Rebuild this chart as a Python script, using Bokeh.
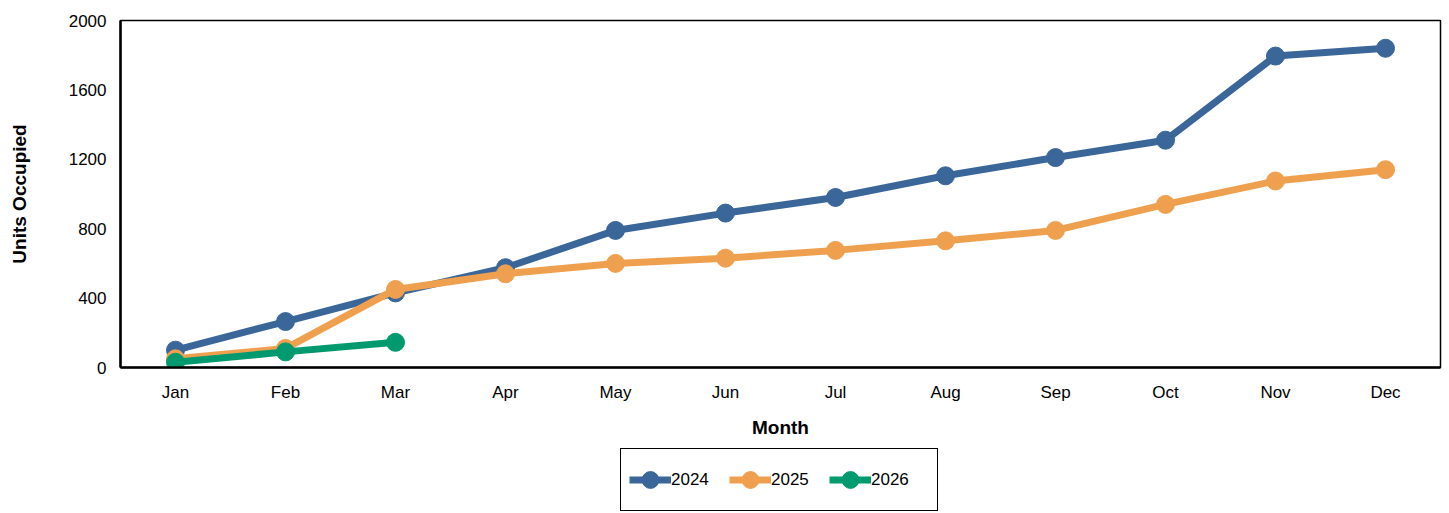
from bokeh.plotting import figure
from bokeh.layouts import column
from bokeh.models import FactorRange, Range1d, Legend, LegendItem, FixedTicker
from bokeh.embed import file_html
from bokeh.resources import INLINE

months = ["Jan", "Feb", "Mar", "Apr", "May", "Jun", "Jul", "Aug", "Sep", "Oct", "Nov", "Dec"]
units_2024 = [100, 265, 430, 575, 790, 890, 980, 1105, 1210, 1310, 1795, 1840]
units_2025 = [50, 110, 450, 540, 600, 630, 675, 730, 790, 940, 1075, 1140]
months_2026 = ["Jan", "Feb", "Mar"]
units_2026 = [30, 90, 145]
y_ticks = [0, 400, 800, 1200, 1600, 2000]

colors = {"2024": "#3B6699", "2025": "#EFA04F", "2026": "#009A6E"}
FONT = "Liberation Sans"

p = figure(width=1449, height=440,
           x_range=FactorRange(factors=months, range_padding=0),
           y_range=Range1d(0, 2000), output_backend="svg", toolbar_location=None,
           min_border_left=120, min_border_right=9, min_border_top=20, min_border_bottom=69)

p.xgrid.grid_line_color = None
p.ygrid.grid_line_color = None
p.outline_line_color = "black"
p.outline_line_width = 1.5
p.outline_line_alpha = 1

p.yaxis.ticker = FixedTicker(ticks=y_ticks)
for ax in (p.xaxis[0], p.yaxis[0]):
    ax.major_tick_line_color = None
    ax.minor_tick_line_color = None
    ax.major_tick_out = 0
    ax.major_tick_in = 0
    ax.axis_line_color = "black"
    ax.axis_line_width = 2.5
    ax.major_label_text_font = FONT
    ax.major_label_text_font_size = "17px"
    ax.major_label_text_color = "black"
    ax.axis_label_text_font = FONT
    ax.axis_label_text_font_style = "bold"
    ax.axis_label_text_color = "black"
    ax.axis_label_text_font_size = "19px"

p.yaxis.axis_label = "Units Occupied"
p.yaxis.major_label_standoff = 14
p.yaxis.axis_label_standoff = 36
p.xaxis.axis_label = "Month"
p.xaxis.major_label_standoff = 15
p.xaxis.axis_label_standoff = 12

series = [("2024", months, units_2024), ("2025", months, units_2025), ("2026", months_2026, units_2026)]
for name, xs, ys in series:
    c = colors[name]
    p.line(xs, ys, line_color=c, line_width=7)
    p.scatter(xs, ys, size=18, fill_color=c, line_color=c)

# legend strip below the chart: same series, drawn outside this strip's visible y range,
# so only their legend glyphs show
lf = figure(width=1449, height=73, x_range=FactorRange(factors=months, range_padding=0),
            y_range=Range1d(3000, 3001),
            output_backend="svg", toolbar_location=None,
            min_border_left=120, min_border_right=9, min_border_top=0, min_border_bottom=0)
lf.axis.visible = False
lf.grid.visible = False
lf.outline_line_color = None

items = []
for name, xs, ys in series:
    c = colors[name]
    l = lf.line(xs, ys, line_color=c, line_width=7)
    s = lf.scatter(xs, ys, size=18, fill_color=c, line_color=c)
    items.append(LegendItem(label=name, renderers=[l, s]))

legend = Legend(items=items, orientation="horizontal", location=(500, 2),
                border_line_color="black", border_line_width=1.5, border_line_alpha=1,
                label_text_font=FONT, label_text_font_size="17px", label_text_color="black",
                glyph_width=42, glyph_height=45, label_standoff=0, label_width=58, spacing=0,
                padding=8, margin=0, background_fill_alpha=1)
lf.add_layout(legend, "center")

layout = column(p, lf, spacing=0)
open("out.html", "w").write(file_html(layout, INLINE))
